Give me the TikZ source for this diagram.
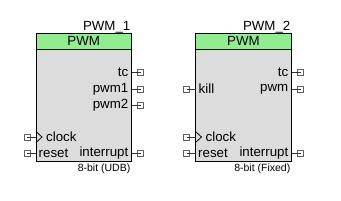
\documentclass[tikz,border=0pt]{standalone}
\usepackage{fontspec}
\setmainfont{Liberation Sans}
\definecolor{hdr}{HTML}{90EE90}
\definecolor{bodyc}{HTML}{DCDCDC}
\definecolor{pinc}{HTML}{606060}
\tikzset{
  lbl/.style={font=\fontsize{13.3}{14}\selectfont, inner sep=0pt},
  small/.style={font=\fontsize{10.5}{12}\selectfont, inner sep=0pt},
  pinbox/.style={draw=pinc, fill=white, line width=0.8pt, minimum size=6pt, inner sep=0pt, rectangle},
  pinline/.style={draw=black!80, line width=0.8pt},
  blockbody/.style={fill=bodyc, draw=black, line width=0.9pt},
  blockhead/.style={fill=hdr, draw=black, line width=0.9pt},
}
\begin{document}
\begin{tikzpicture}[x=1pt,y=-1pt]
\useasboundingbox (0,0) rectangle (341,201);
% ---------- Block 1 ----------
\path[blockbody] (36,49) rectangle (131.5,161);
\path[blockhead] (36,33) rectangle (131.5,49);
\node[lbl] (h1) at (83.75,41) {PWM};
\node[lbl, anchor=base east] (n1) at (130.5,30) {PWM\_1};
\node[small, anchor=base east] (f1) at (130.5,171.5) {8-bit (UDB)};
% right pins
\node[pinbox] (p1tc) at (140.5,72.5) {};
\node[pinbox] (p1pwm1) at (140.5,89) {};
\node[pinbox] (p1pwm2) at (140.5,105.5) {};
\node[pinbox] (p1int) at (140.5,153) {};
\coordinate (e1tc) at (131.5,72.5);
\coordinate (e1pwm1) at (131.5,89);
\coordinate (e1pwm2) at (131.5,105.5);
\coordinate (e1int) at (131.5,153);
\draw[pinline] (e1tc) -- (p1tc.west);
\draw[pinline] (e1pwm1) -- (p1pwm1.west);
\draw[pinline] (e1pwm2) -- (p1pwm2.west);
\draw[pinline] (e1int) -- (p1int.west);
\draw[pinline] (p1tc.west) -- (p1tc.center);
\draw[pinline] (p1pwm1.west) -- (p1pwm1.center);
\draw[pinline] (p1pwm2.west) -- (p1pwm2.center);
\draw[pinline] (p1int.west) -- (p1int.center);
\node[lbl, anchor=east] (t1tc) at (128.5,72.5) {tc};
\node[lbl, anchor=east] (t1pwm1) at (128.5,89) {pwm1};
\node[lbl, anchor=east] (t1pwm2) at (128.5,105.5) {pwm2};
\node[lbl, anchor=east] (t1int) at (128.5,153) {interrupt};
% left pins
\node[pinbox] (p1clk) at (27,137) {};
\node[pinbox] (p1rst) at (27,153) {};
\coordinate (e1clk) at (36,137);
\coordinate (e1rst) at (36,153);
\draw[pinline] (p1clk.center) -- (e1clk);
\draw[pinline] (p1rst.center) -- (e1rst);
\draw[line width=0.8pt] (36,131.5) -- (42,137) -- (36,142.5);
\node[lbl, anchor=west] (t1clk) at (46,137) {clock};
\node[lbl, anchor=west] (t1rst) at (38.5,153) {reset};
% ---------- Block 2 ----------
\path[blockbody] (195.5,49) rectangle (291.5,161);
\path[blockhead] (195.5,33) rectangle (291.5,49);
\node[lbl] (h2) at (243.5,41) {PWM};
\node[lbl, anchor=base east] (n2) at (290.5,30) {PWM\_2};
\node[small, anchor=base east] (f2) at (290.5,171.5) {8-bit (Fixed)};
% right pins
\node[pinbox] (p2tc) at (300.5,72.5) {};
\node[pinbox] (p2pwm) at (300.5,89) {};
\node[pinbox] (p2int) at (300.5,153) {};
\coordinate (e2tc) at (291.5,72.5);
\coordinate (e2pwm) at (291.5,89);
\coordinate (e2int) at (291.5,153);
\draw[pinline] (e2tc) -- (p2tc.center);
\draw[pinline] (e2pwm) -- (p2pwm.center);
\draw[pinline] (e2int) -- (p2int.center);
\node[lbl, anchor=east] (t2tc) at (288.5,72.5) {tc};
\node[lbl, anchor=east] (t2pwm) at (288.5,89) {pwm};
\node[lbl, anchor=east] (t2int) at (288.5,153) {interrupt};
% left pins
\node[pinbox] (p2kill) at (186.5,89) {};
\node[pinbox] (p2clk) at (186.5,137) {};
\node[pinbox] (p2rst) at (186.5,153) {};
\coordinate (e2kill) at (195.5,89);
\coordinate (e2clk) at (195.5,137);
\coordinate (e2rst) at (195.5,153);
\draw[pinline] (p2kill.center) -- (e2kill);
\draw[pinline] (p2clk.center) -- (e2clk);
\draw[pinline] (p2rst.center) -- (e2rst);
\draw[line width=0.8pt] (195.5,131.5) -- (201.5,137) -- (195.5,142.5);
\node[lbl, anchor=west] (t2kill) at (198.5,89) {kill};
\node[lbl, anchor=west] (t2clk) at (205.5,137) {clock};
\node[lbl, anchor=west] (t2rst) at (198,153) {reset};
\end{tikzpicture}
\end{document}
